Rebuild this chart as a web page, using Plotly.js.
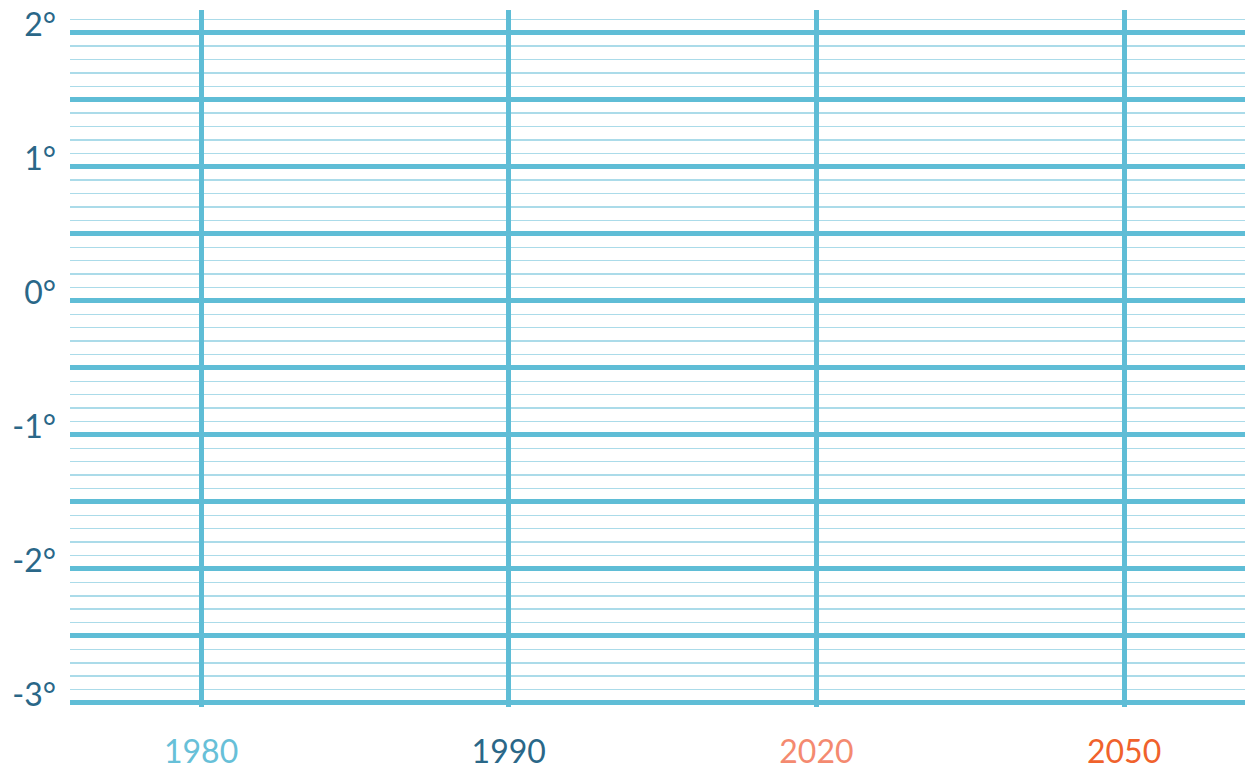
<!DOCTYPE html>
<html>
<head>
<meta charset="utf-8">
<script src="https://cdn.plot.ly/plotly-3.0.1.min.js"></script>
<style>
html,body{margin:0;padding:0;background:#fff;}
#chart{width:1245px;height:769px;}
</style>
</head>
<body>
<div id="chart"></div>
<script>
// Data
const years = ['1980', '1990', '2020', '2050'];
const yearColors = ['#67c0d8', '#2a6788', '#f48a70', '#f0622c'];
const tempTicks = [-3, -2.5, -2, -1.5, -1, -0.5, 0, 0.5, 1, 1.5, 2];
const tempLabels = ['-3°', '', '-2°', '', '-1°', '', '0°', '', '1°', '', '2°'];

const xPos = years.map((_, i) => i);
const xText = years.map((y, i) => '<span style="color:' + yearColors[i] + '">' + y + '</span>');

const gridColor = '#5fbdd6';
const minorColor = '#abdbe9';

const layout = {
  width: 1245,
  height: 769,
  margin: {l: 70, r: 0, t: 10, b: 62},
  paper_bgcolor: '#ffffff',
  plot_bgcolor: '#ffffff',
  showlegend: false,
  font: {family: 'Lato, "Noto Sans", sans-serif', size: 32, color: '#2a6788'},
  xaxis: {
    type: 'linear',
    range: [-0.426, 3.393],
    tickmode: 'array',
    tickvals: xPos,
    ticktext: xText,
    showgrid: true,
    gridcolor: gridColor,
    gridwidth: 5,
    zeroline: false,
    showline: false,
    ticks: '',
    ticklabelstandoff: 23,
    fixedrange: true
  },
  yaxis: {
    range: [-3.03, 2.17],
    tickmode: 'array',
    tickvals: tempTicks,
    ticktext: tempLabels,
    showgrid: true,
    gridcolor: gridColor,
    gridwidth: 5,
    zeroline: false,
    showline: false,
    ticks: '',
    ticklabelstandoff: 13,
    ticklabelshift: -8,
    tickfont: {color: '#2a6788', size: 32},
    minor: {
      tick0: 0,
      dtick: 0.1,
      showgrid: true,
      gridcolor: minorColor,
      gridwidth: 1.5,
      ticks: ''
    },
    fixedrange: true
  }
};

const traces = [{
  type: 'scatter',
  mode: 'markers',
  x: xPos,
  y: years.map(() => null),
  hoverinfo: 'skip',
  showlegend: false
}];

Plotly.newPlot('chart', traces, layout, {displayModeBar: false, staticPlot: true});
</script>
</body>
</html>
